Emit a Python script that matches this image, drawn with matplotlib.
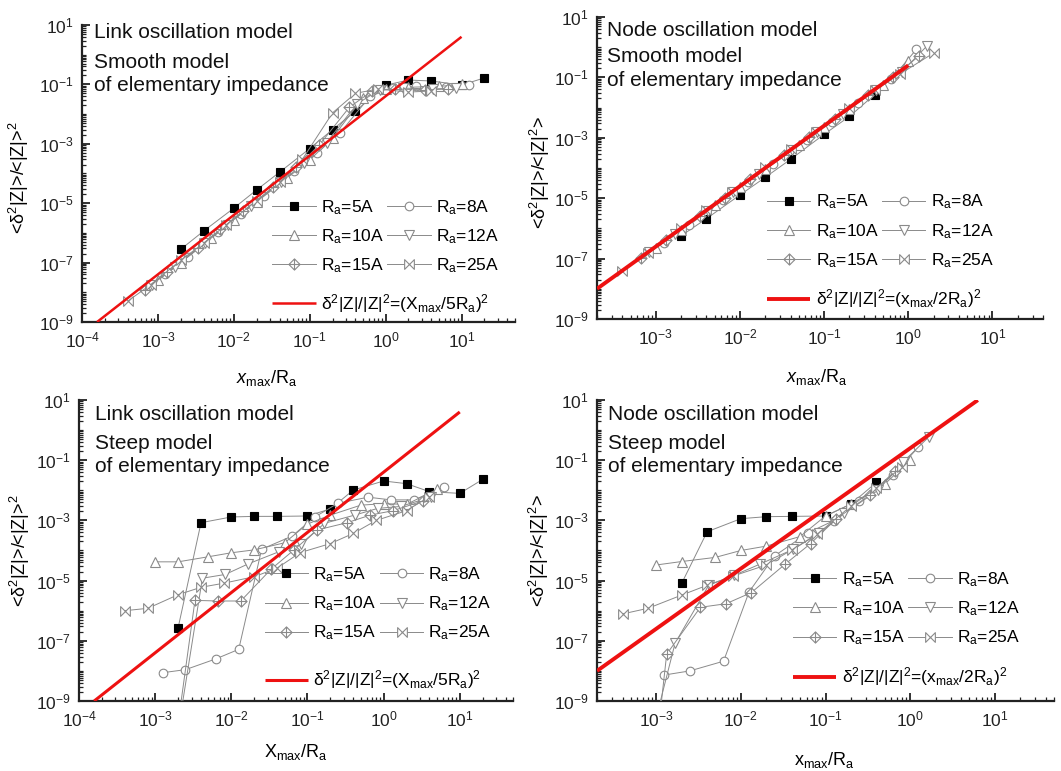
import numpy as np
import matplotlib
matplotlib.use("Agg")
import matplotlib.pyplot as plt
from matplotlib.path import Path
from matplotlib.ticker import FixedLocator, LogFormatterSciNotation, NullFormatter

plt.rcParams['font.family'] = ['Liberation Sans', 'DejaVu Sans']
plt.rcParams['mathtext.fontset'] = 'custom'
plt.rcParams['mathtext.rm'] = 'Liberation Sans'
plt.rcParams['mathtext.it'] = 'Liberation Sans:italic'
plt.rcParams['mathtext.default'] = 'regular'

nan = np.nan

# x_max / R_a for every cluster radius
x5 = [0.002, 0.004, 0.01, 0.02, 0.04, 0.1, 0.2, 0.4, 1, 2, 4, 10, 20]
x8 = [0.00125, 0.0025, 0.00625, 0.0125, 0.025, 0.0625, 0.125, 0.25, 0.625, 1.25, 2.5, 6.25, 12.5]
x10 = [0.001, 0.002, 0.005, 0.01, 0.02, 0.05, 0.1, 0.2, 0.5, 1, 2, 5, 10]
x12 = [0.00083, 0.00167, 0.00417, 0.00833, 0.0167, 0.0417, 0.0833, 0.167, 0.417, 0.833, 1.67, 4.17, 8.33]
x15 = [0.00067, 0.00133, 0.00333, 0.00667, 0.0133, 0.0333, 0.0667, 0.133, 0.333, 0.667, 1.33, 3.33, 6.67]
x25 = [0.0004, 0.0008, 0.002, 0.004, 0.008, 0.02, 0.04, 0.08, 0.2, 0.4, 0.8, 2, 4]

# link oscillation, smooth impedance
y5_ls = [2.8e-7, 1.15e-6, 6.8e-6, 2.8e-5, 1.1e-4, 6.9e-4, 3.0e-3, 1.25e-2, 0.094, 0.14, 0.13, 0.095, 0.165]
y8_ls = [4e-8, 1.6e-7, 1.1e-6, 4.3e-6, 1.8e-5, 1.2e-4, 5e-4, 2.3e-3, 0.04, 0.075, 0.085, 0.08, 0.095]
y10_ls = [2.5e-8, 1e-7, 6.5e-7, 2.8e-6, 1.1e-5, 7e-5, 2.8e-4, 1.6e-3, 0.035, 0.07, 0.08, 0.085, 0.1]
y12_ls = [1.8e-8, 7e-8, 4.5e-7, 1.9e-6, 8e-6, 5e-5, 2.2e-4, 1.1e-3, 0.022, 0.065, 0.075, 0.07, 0.075]
y15_ls = [1.2e-8, 5e-8, 3e-7, 1.3e-6, 5.5e-6, 3.5e-5, 1.6e-4, 9e-4, 0.017, 0.06, 0.07, 0.065, 0.07]
y25_ls = [5e-9, 1.8e-8, 1.2e-7, 4.5e-7, 1.9e-6, 1.2e-5, 5e-5, 3e-4, 0.011, 0.05, 0.07, 0.055, 0.06]

# node oscillation, smooth impedance
y5_ns = [5.7e-7, 2.1e-6, 1.28e-5, 4.9e-5, 1.94e-4, 1.3e-3, 5.1e-3, 0.027, nan, nan, nan, nan, nan]
y8_ns = [3.3e-7, 1.3e-6, 8.5e-6, 3.4e-5, 1.4e-4, 8.5e-4, 3.4e-3, 1.4e-2, 0.085, 0.85, nan, nan, nan]
y10_ns = [2.3e-7, 9e-7, 5.8e-6, 2.3e-5, 9e-5, 5.8e-4, 2.3e-3, 9e-3, 0.058, 0.35, nan, nan, nan]
y12_ns = [1.6e-7, 6.3e-7, 3.9e-6, 1.6e-5, 6.3e-5, 3.9e-4, 1.6e-3, 6.3e-3, 0.039, 0.15, 1.1, nan, nan]
y15_ns = [1.05e-7, 4.2e-7, 2.6e-6, 1.05e-5, 4.2e-5, 2.6e-4, 1.05e-3, 4.2e-3, 0.026, 0.105, 0.5, nan, nan]
y25_ns = [4e-8, 1.5e-7, 1e-6, 4e-6, 1.6e-5, 1.05e-4, 4.2e-4, 1.6e-3, 0.01, 0.038, 0.13, 0.64, nan]

# link oscillation, steep impedance
y5_lt = [2.7e-7, 8.4e-4, 1.3e-3, 1.36e-3, 1.36e-3, 1.4e-3, 2.4e-3, 0.0102, 0.0204, 0.0166, 9.0e-3, 7.9e-3, 0.023]
y8_lt = [8.7e-9, 1.1e-8, 2.5e-8, 5.2e-8, 1.1e-4, 3.0e-4, 1.3e-3, 3.7e-3, 5.9e-3, 4.8e-3, 4.8e-3, 0.0126, nan]
y10_lt = [4.2e-5, 4.2e-5, 6.2e-5, 8.4e-5, 1.05e-4, 1.8e-4, 7.6e-4, 1.5e-3, 3.2e-3, 3.6e-3, 3.4e-3, 0.0107, nan]
y12_lt = [nan, 6e-12, 1.2e-5, 1.6e-5, 3.6e-5, 9e-5, 1.6e-4, 8e-4, 1.5e-3, 2.5e-3, 2.9e-3, 6e-3, nan]
y15_lt = [nan, 1e-13, 2.2e-6, 2.1e-6, 2.1e-6, 2.4e-5, 1.05e-4, 4.8e-4, 8.4e-4, 1.5e-3, 2.1e-3, 4.5e-3, nan]
y25_lt = [1e-6, 1.2e-6, 3.4e-6, 6e-6, 8.2e-6, 1.35e-5, 2.6e-5, 8.5e-5, 1.7e-4, 3.7e-4, 1.0e-3, 2.1e-3, 6.2e-3]

# node oscillation, steep impedance
y5_nt = [8.1e-6, 4.2e-4, 1.14e-3, 1.33e-3, 1.36e-3, 1.4e-3, 3.5e-3, 0.0184, nan, nan, nan, nan, nan]
y8_nt = [7.3e-9, 1.0e-8, 2.1e-8, 4.2e-6, 6.6e-5, 3.9e-4, 9.8e-4, 4.4e-3, 0.032, 0.27, nan, nan, nan]
y10_nt = [3.3e-5, 4.3e-5, 5.9e-5, 1e-4, 1.4e-4, 2.9e-4, 1.4e-3, 3.5e-3, 0.016, 0.1, nan, nan, nan]
y12_nt = [3.5e-11, 8.3e-8, 7e-6, 1.5e-5, 3.5e-5, 1.1e-4, 3.7e-4, 1.7e-3, 0.010, 0.09, 0.6, nan, nan]
y15_nt = [1e-15, 3.6e-8, 1.3e-6, 1.7e-6, 4e-6, 3.5e-5, 1.7e-4, 1.1e-3, 7e-3, 0.045, nan, nan, nan]
y25_nt = [7.8e-7, 1.2e-6, 3.3e-6, 7e-6, 1.4e-5, 3.3e-5, 1.05e-4, 3.5e-4, 3e-3, 0.012, 0.06, nan, nan]

# span of the reference curve delta^2|Z|/|Z|^2 = (x/(k R_a))^2
fit_x_ls = [1.58e-4, 10]
fit_x_ns = [2e-4, 1]
fit_x_lt = [1.58e-4, 10]
fit_x_nt = [2e-4, 6.3]

radius_labels = ['$R_a$=5A', '$R_a$=8A', '$R_a$=10A', '$R_a$=12A', '$R_a$=15A', '$R_a$=25A']

# custom symbols: diamond with a cross, and a bow tie
diamond_plus = Path([(0, 1), (1, 0), (0, -1), (-1, 0), (0, 1), (0, 1), (0, -1), (-1, 0), (1, 0)],
                    [Path.MOVETO, Path.LINETO, Path.LINETO, Path.LINETO, Path.CLOSEPOLY,
                     Path.MOVETO, Path.LINETO, Path.MOVETO, Path.LINETO])
bowtie = Path([(-1, -1), (1, 1), (1, -1), (-1, 1), (-1, -1)],
              [Path.MOVETO, Path.LINETO, Path.LINETO, Path.LINETO, Path.CLOSEPOLY])

GRAY = '#8a8a8a'
styles = [
    dict(marker='s', ms=5.4, mfc='black', mec='black'),
    dict(marker='o', ms=6.2, mfc='white', mec=GRAY),
    dict(marker='^', ms=7.2, mfc='white', mec=GRAY),
    dict(marker='v', ms=7.2, mfc='white', mec=GRAY),
    dict(marker=diamond_plus, ms=8, mfc='white', mec=GRAY),
    dict(marker=bowtie, ms=7, mfc='white', mec=GRAY),
]
xs = [x5, x8, x10, x12, x15, x25]

fig = plt.figure(figsize=(10.61, 7.71), dpi=100)

panels = [
    dict(rect=[0.0773, 0.5824, 0.4077, 0.3852], ys=[y5_ls, y8_ls, y10_ls, y12_ls, y15_ls, y25_ls],
         xlim=(1e-4, 50), fit_x=fit_x_ls, k=5, fit_lw=1.8,
         lines=['Link oscillation model', 'Smooth model', 'of elementary impedance'],
         text_x=0.028, text_y=[1.005, 0.907, 0.829],
         fit_label=r'$\delta^2|Z|/|Z|^2$=$(X_{max}/5R_a)^2$',
         xlabel=r'$\mathit{x}_{max}$/$R_a$', ylabel=r'<$\delta^2$|Z|>/<|Z|>$^2$',
         xlab=(0.427, -0.155), ylab=(-0.118, 0.485), leg=(0.44, 0.418), leg2=(0.44, 0.1)),
    dict(rect=[0.5627, 0.5863, 0.4204, 0.3917], ys=[y5_ns, y8_ns, y10_ns, y12_ns, y15_ns, y25_ns],
         xlim=(2e-4, 40), fit_x=fit_x_ns, k=2, fit_lw=2.8,
         lines=['Node oscillation model', 'Smooth model', 'of elementary impedance'],
         text_x=0.022, text_y=[0.985, 0.9, 0.82],
         fit_label=r'$\delta^2|Z|/|Z|^2$=$(x_{max}/2R_a)^2$',
         xlabel=r'$\mathit{x}_{max}$/$R_a$', ylabel=r'<$\delta^2$|Z|>/<|Z|$^2$>',
         xlab=(0.493, -0.16), ylab=(-0.1, 0.485), leg=(0.381, 0.418), leg2=(0.381, 0.104)),
    dict(rect=[0.0745, 0.0908, 0.4090, 0.3904], ys=[y5_lt, y8_lt, y10_lt, y12_lt, y15_lt, y25_lt],
         xlim=(1e-4, 50), fit_x=fit_x_lt, k=5, fit_lw=2.2,
         lines=['Link oscillation model', 'Steep model', 'of elementary impedance'],
         text_x=0.037, text_y=[0.985, 0.887, 0.81],
         fit_label=r'$\delta^2|Z|/|Z|^2$=$(X_{max}/5R_a)^2$',
         xlabel=r'$X_{max}$/$R_a$', ylabel=r'<$\delta^2$|Z|>/<|Z|>$^2$',
         xlab=(0.50, -0.136), ylab=(-0.108, 0.5), leg=(0.428, 0.45), leg2=(0.428, 0.108)),
    dict(rect=[0.5627, 0.0908, 0.4307, 0.3904], ys=[y5_nt, y8_nt, y10_nt, y12_nt, y15_nt, y25_nt],
         xlim=(2e-4, 50), fit_x=fit_x_nt, k=2, fit_lw=2.8,
         lines=['Node oscillation model', 'Steep model', 'of elementary impedance'],
         text_x=0.024, text_y=[0.985, 0.887, 0.81],
         fit_label=r'$\delta^2|Z|/|Z|^2$=$(x_{max}/2R_a)^2$',
         xlabel=r'$x_{max}$/$R_a$', ylabel=r'<$\delta^2$|Z|>/<|Z|$^2$>',
         xlab=(0.497, -0.163), ylab=(-0.1, 0.5), leg=(0.429, 0.434), leg2=(0.429, 0.118)),
]

y_major = [10.0 ** p for p in range(-9, 2, 2)]
y_minor = [m * 10.0 ** p for p in range(-10, 2) for m in range(1, 10)]
x_major = [10.0 ** p for p in range(-4, 2)]
x_minor = [m * 10.0 ** p for p in range(-5, 3) for m in range(1, 10)]

for p in panels:
    ax = fig.add_axes(p['rect'])
    ax.set_xscale('log')
    ax.set_yscale('log')

    handles = []
    for x, y, st, lab in zip(xs, p['ys'], styles, radius_labels):
        h, = ax.plot(x, y, color=GRAY, lw=0.7, mew=0.8, label=lab, zorder=3, **st)
        handles.append(h)

    fx = np.array(p['fit_x'])
    fit, = ax.plot(fx, (fx / p['k']) ** 2, color='#ee1111', lw=p['fit_lw'],
                   solid_capstyle='butt', zorder=4, label=p['fit_label'])

    ax.set_xlim(*p['xlim'])
    ax.set_ylim(1e-9, 10)

    ax.xaxis.set_major_locator(FixedLocator(x_major))
    ax.xaxis.set_minor_locator(FixedLocator(x_minor))
    ax.yaxis.set_major_locator(FixedLocator(y_major))
    ax.yaxis.set_minor_locator(FixedLocator(y_minor))
    ax.xaxis.set_major_formatter(LogFormatterSciNotation())
    ax.yaxis.set_major_formatter(LogFormatterSciNotation())
    ax.xaxis.set_minor_formatter(NullFormatter())
    ax.yaxis.set_minor_formatter(NullFormatter())

    for s in ['top', 'right']:
        ax.spines[s].set_visible(False)
    for s in ['left', 'bottom']:
        ax.spines[s].set_linewidth(1.6)
        ax.spines[s].set_color('#222222')
    ax.tick_params(which='major', direction='in', length=6, width=1.3, labelsize=12.5,
                   colors='#222222', pad=6)
    ax.tick_params(which='minor', direction='in', length=3, width=0.9, colors='#222222')

    for t, ty in zip(p['lines'], p['text_y']):
        ax.text(p['text_x'], ty, t, transform=ax.transAxes, fontsize=15,
                va='top', ha='left', color='#111111')

    ax.set_xlabel(p['xlabel'], fontsize=13)
    ax.set_ylabel(p['ylabel'], fontsize=13)
    ax.xaxis.set_label_coords(*p['xlab'])
    ax.yaxis.set_label_coords(*p['ylab'])

    # two columns, rows read 5/8, 10/12, 15/25
    order = [0, 2, 4, 1, 3, 5]
    leg = ax.legend([handles[i] for i in order], [radius_labels[i] for i in order],
                    ncol=2, loc='upper left', bbox_to_anchor=p['leg'], frameon=False,
                    fontsize=12.5, handlelength=2.5, handletextpad=0.3, columnspacing=0.2,
                    labelspacing=0.6, borderpad=0, borderaxespad=0)
    ax.add_artist(leg)
    ax.legend([fit], [p['fit_label']], loc='upper left', bbox_to_anchor=p['leg2'],
              frameon=False, fontsize=12.5, handlelength=2.5, handletextpad=0.3,
              borderpad=0, borderaxespad=0)

fig.savefig('out.png', dpi=100)
